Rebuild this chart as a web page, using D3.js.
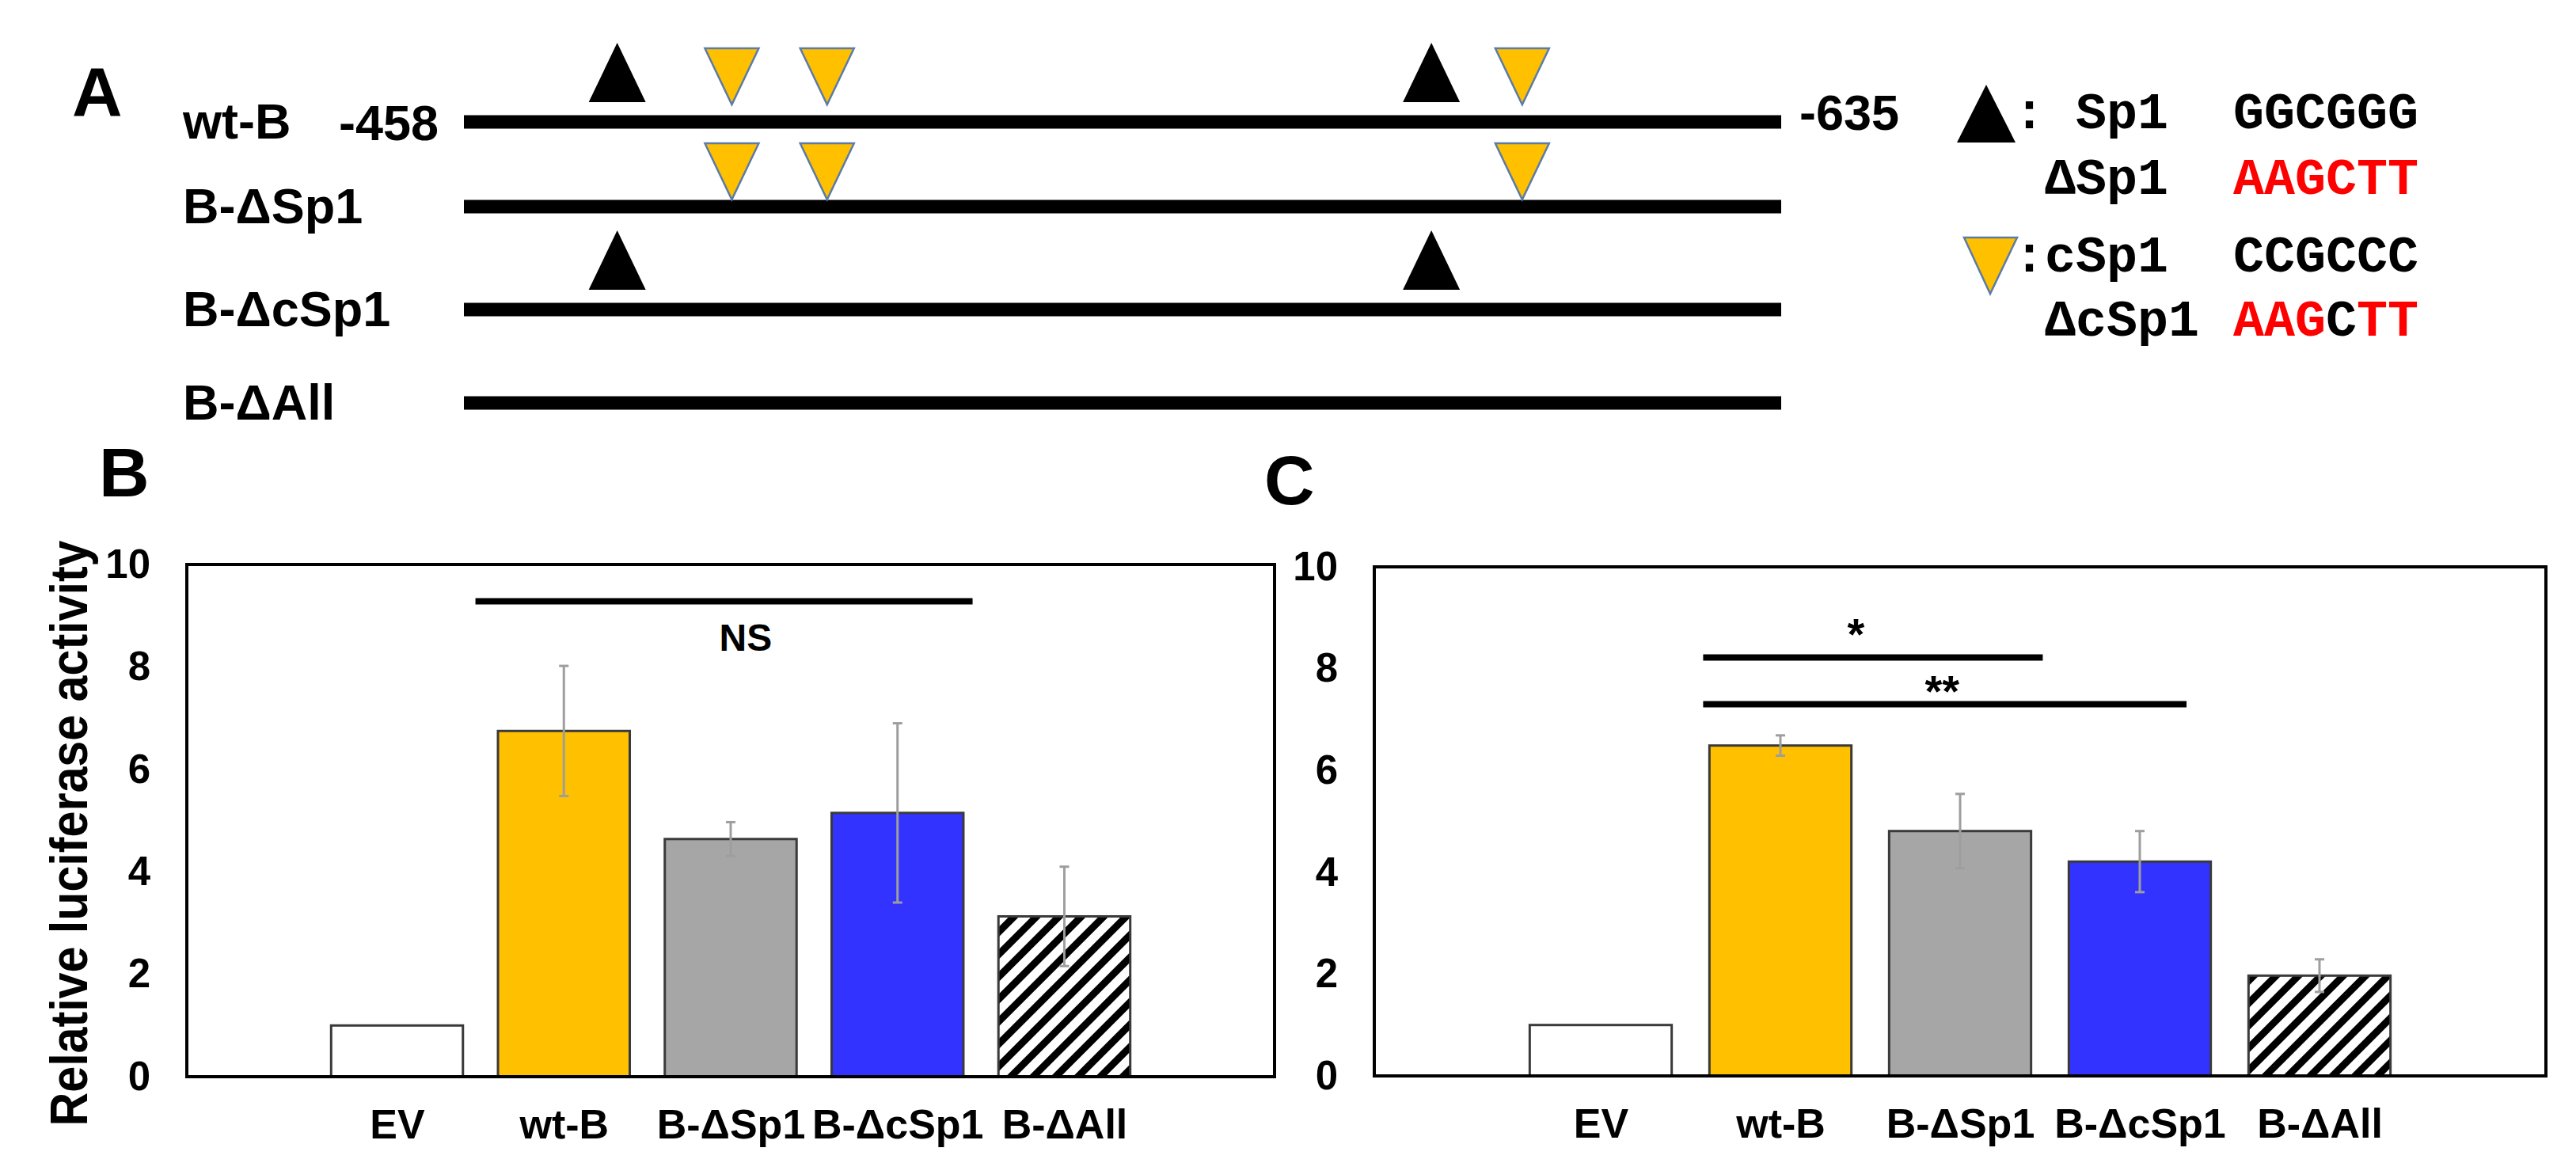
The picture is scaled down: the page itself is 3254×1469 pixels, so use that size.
<!DOCTYPE html>
<html>
<head>
<meta charset="utf-8">
<script src="https://cdn.jsdelivr.net/npm/d3@7"></script>
<style>
  html, body { margin: 0; padding: 0; background: #fff; }
  svg { display: block; }
</style>
</head>
<body>
<svg id="fig" width="3254" height="1469"></svg>
<script>
// ---------------- DATA ----------------
const categories = ["EV", "wt-B", "B-ΔSp1", "B-ΔcSp1", "B-ΔAll"];
const valuesB = [1.0, 6.75, 4.64, 5.15, 3.13];
const errorsB = [0, 1.27, 0.33, 1.75, 0.97];
const valuesC = [1.0, 6.49, 4.81, 4.21, 1.97];
const errorsC = [0, 0.20, 0.73, 0.60, 0.32];
const yTicks = [0, 2, 4, 6, 8, 10];
const yTitle = "Relative luciferase activity";
// significance annotations (x in category-index units, y in data units)
const sigB = [{ x0: 0.47, x1: 3.45, y: 9.28, label: "NS", labelX: 2.09, labelBelow: true }];
const sigC = [
  { x0: 0.57, x1: 2.46, y: 8.22, label: "*", labelX: 1.42, labelBelow: false },
  { x0: 0.57, x1: 3.26, y: 7.30, label: "**", labelX: 1.90, labelBelow: false }
];
// panel A: promoter constructs
const constructs = ["wt-B", "B-ΔSp1", "B-ΔcSp1", "B-ΔAll"];
const promoterEnds = [-458, -635];
const sp1Sites = [-478.6, -588.0];
const cSp1Sites = [-494.0, -506.8, -600.2];
const hasSp1 = [true, false, true, false];
const hasCSp1 = [true, true, false, false];
const legendRows = [
  { name: ": Sp1", seq: [["GGCGGG", "#000"]] },
  { name: " ΔSp1", seq: [["AAGCTT", "#ff0000"]] },
  { name: ":cSp1", seq: [["CCGCCC", "#000"]] },
  { name: " ΔcSp1", seq: [["AAG", "#ff0000"], ["C", "#000"], ["TT", "#ff0000"]] }
];
const barColors = ["#ffffff", "#ffc000", "#a6a6a6", "#3333ff", "url(#hatch)"];

// ---------------- DRAW ----------------
const svg = d3.select("#fig");
const SANS = "'Liberation Sans', Arial, Helvetica, sans-serif";
const MONO = "'Liberation Mono', 'Courier New', monospace";

const defs = svg.append("defs");
const pat = defs.append("pattern").attr("id", "hatch")
  .attr("patternUnits", "userSpaceOnUse").attr("width", 20).attr("height", 20)
  .attr("patternTransform", "rotate(45)");
pat.append("rect").attr("width", 20).attr("height", 20).attr("fill", "#fff");
pat.append("rect").attr("width", 9).attr("height", 20).attr("fill", "#000");

// panel letters
const letters = [["A", 91, 146], ["B", 125, 627], ["C", 1597, 637]];
svg.selectAll("text.panel").data(letters).join("text")
  .attr("class", "panel").attr("x", d => d[1]).attr("y", d => d[2])
  .attr("font-family", SANS).attr("font-weight", "bold").attr("font-size", 88)
  .text(d => d[0]);

// ---- Panel A ----
const xA = d3.scaleLinear().domain(promoterEnds).range([586, 2250]);
const rowCenters = [154, 261, 391, 509];
const gA = svg.append("g");
constructs.forEach((c, i) => {
  const cy = rowCenters[i];
  gA.append("line").attr("x1", xA(promoterEnds[0])).attr("x2", xA(promoterEnds[1]))
    .attr("y1", cy).attr("y2", cy).attr("stroke", "#000").attr("stroke-width", 17);
  gA.append("text").attr("x", 231).attr("y", cy + 21)
    .attr("font-family", SANS).attr("font-weight", "bold").attr("font-size", 63)
    .text(c);
  if (hasSp1[i]) {
    sp1Sites.forEach(p => {
      const x = xA(p), base = cy - 25;
      gA.append("path").attr("d", `M${x - 36},${base} L${x + 36},${base} L${x},${base - 75} Z`)
        .attr("fill", "#000");
    });
  }
  if (hasCSp1[i]) {
    const gap = i === 0 ? 22 : 9;
    cSp1Sites.forEach(p => {
      const x = xA(p), tip = cy - gap;
      gA.append("path").attr("d", `M${x - 34},${tip - 71} L${x + 34},${tip - 71} L${x},${tip} Z`)
        .attr("fill", "#ffc000").attr("stroke", "#5b7ba8").attr("stroke-width", 2.5);
    });
  }
});
gA.append("text").attr("x", 428).attr("y", 177)
  .attr("font-family", SANS).attr("font-weight", "bold").attr("font-size", 63)
  .text(String(promoterEnds[0]));
gA.append("text").attr("x", 2273).attr("y", 164)
  .attr("font-family", SANS).attr("font-weight", "bold").attr("font-size", 63)
  .text(String(promoterEnds[1]));

// legend
const legBase = [162, 245, 343, 424];
gA.append("path").attr("d", "M2472,180 L2546,180 L2509,107 Z").attr("fill", "#000");
gA.append("path").attr("d", "M2481,300 L2548,300 L2514,371 Z")
  .attr("fill", "#ffc000").attr("stroke", "#5b7ba8").attr("stroke-width", 2.5);
legendRows.forEach((r, i) => {
  gA.append("text").attr("x", 2544).attr("y", legBase[i])
    .attr("font-family", MONO).attr("font-weight", "bold").attr("font-size", 65)
    .attr("xml:space", "preserve").style("white-space", "pre")
    .text(r.name);
  const t = gA.append("text").attr("x", 2821).attr("y", legBase[i])
    .attr("font-family", MONO).attr("font-weight", "bold").attr("font-size", 65);
  r.seq.forEach(s => t.append("tspan").attr("fill", s[1]).text(s[0]));
});

// ---- Bar panels ----
function barPanel(left, right, top, bottom, values, errors, sigs, showTitle) {
  const g = svg.append("g");
  const x = d3.scalePoint().domain(categories).range([left, right]).padding(1.26);
  const y = d3.scaleLinear().domain([0, 10]).range([bottom, top]);
  const step = x.step();
  const bw = step * 0.79;
  const xi = d3.scaleLinear().domain([0, 1]).range([x(categories[0]), x(categories[1])]);

  const ya = g.append("g").attr("transform", `translate(${left},0)`)
    .call(d3.axisLeft(y).tickValues(yTicks).tickSize(0).tickPadding(46).tickFormat(d3.format("d")));
  ya.select(".domain").remove();
  ya.selectAll("text").attr("font-family", SANS).attr("font-weight", "bold")
    .attr("font-size", 51).attr("fill", "#000");

  const xa = g.append("g").attr("transform", `translate(0,${bottom})`)
    .call(d3.axisBottom(x).tickSize(0).tickPadding(41));
  xa.select(".domain").remove();
  xa.selectAll("text").attr("font-family", SANS).attr("font-weight", "bold")
    .attr("font-size", 52).attr("fill", "#000");

  g.selectAll("rect.bar").data(values).join("rect").attr("class", "bar")
    .attr("x", (d, i) => x(categories[i]) - bw / 2)
    .attr("width", bw)
    .attr("y", d => y(d))
    .attr("height", d => y(0) - y(d))
    .attr("fill", (d, i) => barColors[i])
    .attr("stroke", "#3a3a3a").attr("stroke-width", 3);

  const eb = g.append("g").attr("stroke", "#9e9e9e").attr("stroke-width", 3);
  values.forEach((v, i) => {
    if (!errors[i]) return;
    const cx = x(categories[i]);
    eb.append("line").attr("x1", cx).attr("x2", cx).attr("y1", y(v - errors[i])).attr("y2", y(v + errors[i]));
    [v - errors[i], v + errors[i]].forEach(e => {
      eb.append("line").attr("x1", cx - 6).attr("x2", cx + 6).attr("y1", y(e)).attr("y2", y(e));
    });
  });

  g.append("rect").attr("x", left).attr("y", top).attr("width", right - left).attr("height", bottom - top)
    .attr("fill", "none").attr("stroke", "#000").attr("stroke-width", 4);

  sigs.forEach(s => {
    g.append("line").attr("x1", xi(s.x0)).attr("x2", xi(s.x1)).attr("y1", y(s.y)).attr("y2", y(s.y))
      .attr("stroke", "#000").attr("stroke-width", 8);
    g.append("text").attr("x", xi(s.labelX))
      .attr("y", s.labelBelow ? y(s.y) + 62 : y(s.y) + 12 - (s.label === "*" ? 14 : 2) - 8)
      .attr("text-anchor", "middle")
      .attr("font-family", SANS).attr("font-weight", "bold").attr("font-size", s.labelBelow ? 48 : 56)
      .text(s.label);
  });

  if (showTitle) {
    g.append("text").attr("transform", `translate(110,${(top + bottom) / 2 + 16}) rotate(-90)`)
      .attr("text-anchor", "middle")
      .attr("font-family", SANS).attr("font-weight", "bold").attr("font-size", 66)
      .attr("textLength", 740).attr("lengthAdjust", "spacingAndGlyphs")
      .text(yTitle);
  }
}

barPanel(236, 1610, 713, 1360, valuesB, errorsB, sigB, true);
barPanel(1736, 3216, 716, 1359, valuesC, errorsC, sigC, false);
</script>
</body>
</html>
